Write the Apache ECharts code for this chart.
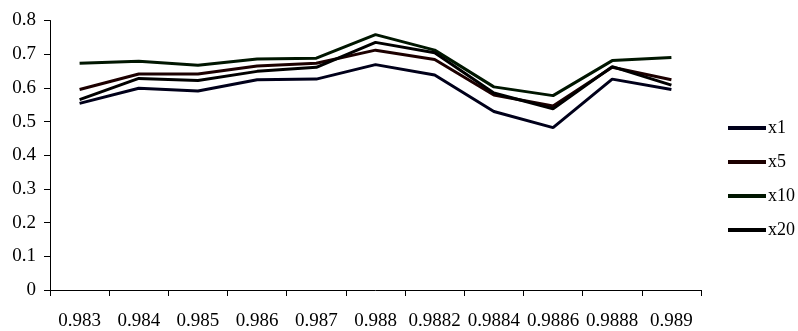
<!DOCTYPE html>
<html>
<head>
<meta charset="utf-8">
<script src="https://cdn.jsdelivr.net/npm/echarts@6/dist/echarts.min.js"></script>
<style>
  html, body { margin: 0; padding: 0; background: #fff; }
  #chart { width: 798px; height: 331px; }
</style>
</head>
<body>
<div id="chart"></div>
<script>
// Category labels along the x axis
const categories = ['0.983', '0.984', '0.985', '0.986', '0.987', '0.988', '0.9882', '0.9884', '0.9886', '0.9888', '0.989'];

// Series values
const x1  = [0.554, 0.599, 0.591, 0.624, 0.626, 0.669, 0.638, 0.530, 0.482, 0.626, 0.595];
const x5  = [0.595, 0.641, 0.641, 0.665, 0.673, 0.712, 0.684, 0.579, 0.546, 0.661, 0.624];
const x10 = [0.673, 0.679, 0.667, 0.686, 0.688, 0.758, 0.712, 0.603, 0.577, 0.681, 0.690];
const x20 = [0.565, 0.628, 0.622, 0.649, 0.661, 0.735, 0.704, 0.585, 0.538, 0.663, 0.608];

const seriesNames = ['x1', 'x5', 'x10', 'x20'];
const seriesData = [x1, x5, x10, x20];
const seriesColors = ['#00001a', '#1c0000', '#001600', '#000000'];

const font = '"Liberation Serif", "Times New Roman", serif';

const chart = echarts.init(document.getElementById('chart'), null, { renderer: 'canvas' });

chart.setOption({
  animation: false,
  backgroundColor: '#ffffff',
  grid: { left: 50, right: 97, top: 20.5, bottom: 37, containLabel: false },
  legend: {
    orient: 'vertical',
    left: 723,
    top: 114,
    icon: 'rect',
    itemWidth: 38,
    itemHeight: 4,
    itemGap: 16,
    textStyle: { fontFamily: font, fontSize: 18, color: '#000', padding: [0, 0, 0, -3] },
    data: seriesNames
  },
  xAxis: {
    type: 'category',
    data: categories,
    boundaryGap: true,
    axisLine: { lineStyle: { color: '#000', width: 1 } },
    axisTick: { show: true, interval: 0, length: 6, lineStyle: { color: '#000' } },
    axisLabel: { interval: 0, margin: 22, fontFamily: font, fontSize: 19, color: '#000' },
    splitLine: { show: false }
  },
  yAxis: {
    type: 'value',
    min: 0,
    max: 0.8,
    interval: 0.1,
    axisLine: { show: true, lineStyle: { color: '#000', width: 1 } },
    axisTick: { show: true, length: 6, lineStyle: { color: '#000' } },
    axisLabel: { margin: 14, fontFamily: font, fontSize: 19, color: '#000',
      formatter: v => (Math.round(v * 10) / 10).toString() },
    splitLine: { show: false }
  },
  series: seriesNames.map((name, i) => ({
    name,
    type: 'line',
    data: seriesData[i],
    symbol: 'none',
    smooth: false,
    color: seriesColors[i],
    lineStyle: { width: 3, color: seriesColors[i] },
    itemStyle: { color: seriesColors[i] }
  }))
});
</script>
</body>
</html>
